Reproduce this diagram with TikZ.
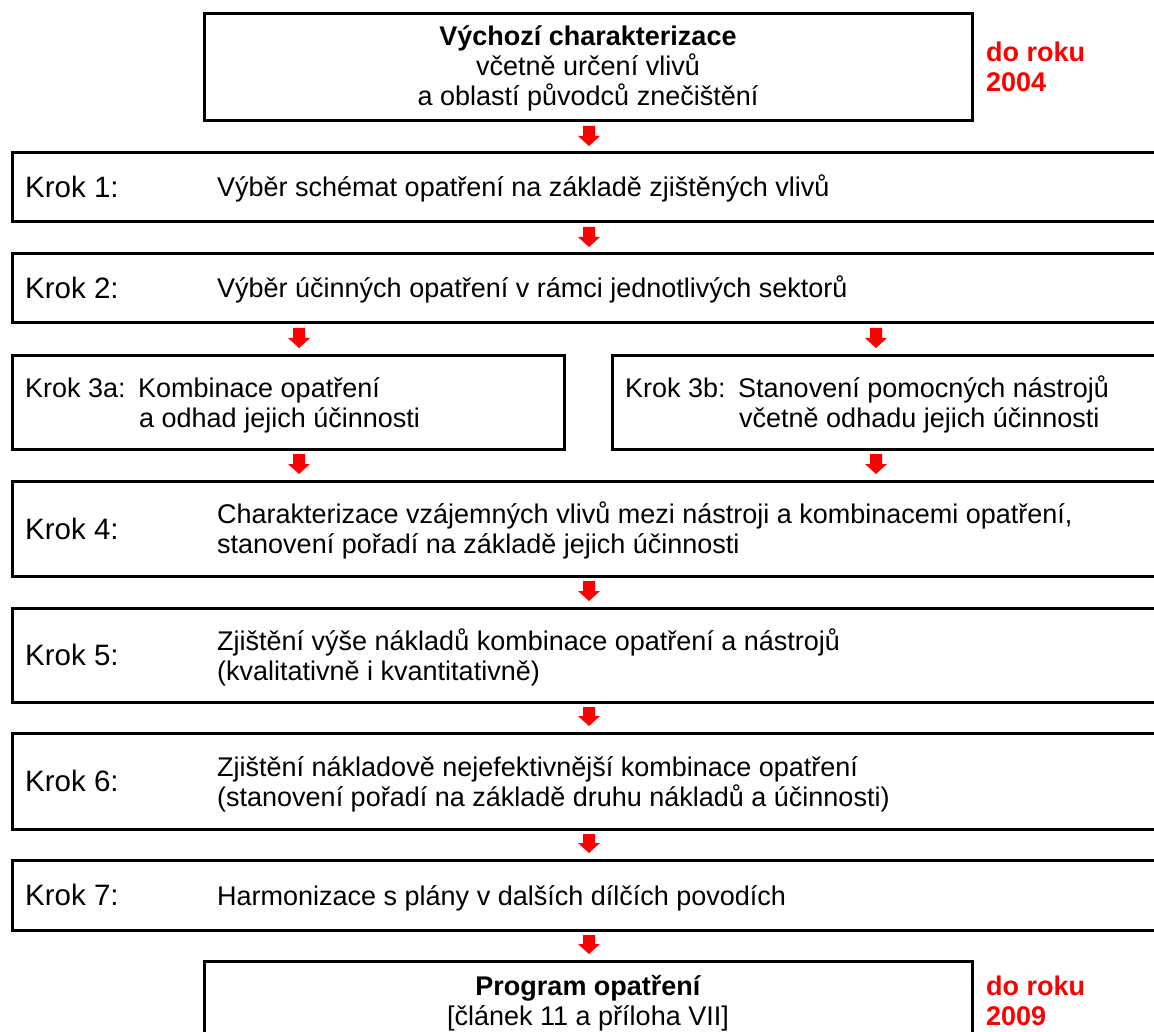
\documentclass[tikz,border=0pt]{standalone}
\usepackage{fontspec}
\setmainfont{Liberation Sans}
\usetikzlibrary{calc}
\definecolor{arrred}{RGB}{255,0,0}
\newcommand{\flowarrow}[2]{%
  \path (#1) coordinate (fa-s) (#2) coordinate (fa-e);
  \fill[arrred] let \p1=(fa-s), \p2=(fa-e) in
    (\x1-6pt,\y1-5pt) -- (\x1+6pt,\y1-5pt) -- (\x1+6pt,\y2+17pt) -- (\x1+11pt,\y2+17pt)
    -- (\x1,\y2+7pt) -- (\x1-11pt,\y2+17pt) -- (\x1-6pt,\y2+17pt) -- cycle;}
\tikzset{
  box/.style={draw=black, line width=3pt, rectangle, inner sep=0pt, outer sep=0pt, anchor=north west},
  body/.style={anchor=base west, inner sep=0pt, font=\fontsize{27}{30}\selectfont},
  klabel/.style={anchor=base west, inner sep=0pt, font=\fontsize{29.5}{33}\selectfont},
  ctext/.style={anchor=base, inner sep=0pt, font=\fontsize{27}{30}\selectfont},
  cbold/.style={anchor=base, inner sep=0pt, font=\bfseries\fontsize{27}{30}\selectfont},
  datelbl/.style={anchor=base west, inner sep=0pt, text=arrred, font=\bfseries\fontsize{27}{30}\selectfont}
}
\begin{document}
\begin{tikzpicture}[x=1pt,y=-1pt]
\useasboundingbox (0,0) rectangle (1154,1032);
\clip (0,0) rectangle (1154,1032);
\fill[white] (0,0) rectangle (1154,1032);
\coordinate (ax) at (589,0);
\coordinate (al) at (299,0);
\coordinate (ar) at (876,0);
% boxes
\node[box, minimum width=768pt, minimum height=107pt] (top) at (204,14) {};
\node[box, minimum width=1158pt, minimum height=69pt] (k1) at (12,153) {};
\node[box, minimum width=1158pt, minimum height=69pt] (k2) at (12,254) {};
\node[box, minimum width=552pt, minimum height=94pt] (k3a) at (12,355) {};
\node[box, minimum width=558pt, minimum height=94pt] (k3b) at (612,355) {};
\node[box, minimum width=1158pt, minimum height=95pt] (k4) at (12,481) {};
\node[box, minimum width=1158pt, minimum height=94pt] (k5) at (12,608) {};
\node[box, minimum width=1158pt, minimum height=96pt] (k6) at (12,733) {};
\node[box, minimum width=1158pt, minimum height=70pt] (k7) at (12,860) {};
\node[box, minimum width=768pt, minimum height=107pt] (prog) at (204,961) {};
% top text
\node[cbold] (t1) at (588,46) {Výchozí charakterizace};
\node[ctext] (t2) at (588,76) {včetně určení vlivů};
\node[ctext] (t3) at (588,106) {a oblastí původců znečištění};
\node[datelbl] (d1a) at (986,62) {do roku};
\node[datelbl] (d1b) at (986,92) {2004};
% step texts
\node[klabel] (l1) at (25,198) {Krok 1:};
\node[body] (b1) at (217,197) {Výběr schémat opatření na základě zjištěných vlivů};
\node[klabel] (l2) at (25,299) {Krok 2:};
\node[body] (b2) at (217,298) {Výběr účinných opatření v rámci jednotlivých sektorů};
\node[body] (l3a) at (25,397) {Krok 3a:};
\node[body] (b3a1) at (138,397) {Kombinace opatření};
\node[body] (b3a2) at (139,427) {a odhad jejich účinnosti};
\node[body] (l3b) at (625,397) {Krok 3b:};
\node[body] (b3b1) at (738,397) {Stanovení pomocných nástrojů};
\node[body] (b3b2) at (739,427) {včetně odhadu jejich účinnosti};
\node[klabel] (l4) at (25,539) {Krok 4:};
\node[body] (b4a) at (217,523) {Charakterizace vzájemných vlivů mezi nástroji a kombinacemi opatření,};
\node[body] (b4b) at (217,553) {stanovení pořadí na základě jejich účinnosti};
\node[klabel] (l5) at (25,665.5) {Krok 5:};
\node[body] (b5a) at (217,650) {Zjištění výše nákladů kombinace opatření a nástrojů};
\node[body] (b5b) at (217,680) {(kvalitativně i kvantitativně)};
\node[klabel] (l6) at (25,791.5) {Krok 6:};
\node[body] (b6a) at (217,776) {Zjištění nákladově nejefektivnější kombinace opatření};
\node[body] (b6b) at (217,806) {(stanovení pořadí na základě druhu nákladů a účinnosti)};
\node[klabel] (l7) at (25,905.5) {Krok 7:};
\node[body] (b7) at (217,905) {Harmonizace s plány v dalších dílčích povodích};
% bottom text
\node[cbold] (p1) at (588,995) {Program opatření};
\node[ctext] (p2) at (588,1025) {[článek 11 a příloha VII]};
\node[datelbl] (d2a) at (986,995) {do roku};
\node[datelbl] (d2b) at (986,1025) {2009};
% arrows
\flowarrow{top.south -| ax}{k1.north -| ax}
\flowarrow{k1.south -| ax}{k2.north -| ax}
\flowarrow{k2.south -| al}{k3a.north -| al}
\flowarrow{k2.south -| ar}{k3b.north -| ar}
\flowarrow{k3a.south -| al}{k4.north -| al}
\flowarrow{k3b.south -| ar}{k4.north -| ar}
\flowarrow{k4.south -| ax}{k5.north -| ax}
\flowarrow{k5.south -| ax}{k6.north -| ax}
\flowarrow{k6.south -| ax}{k7.north -| ax}
\flowarrow{k7.south -| ax}{prog.north -| ax}
\end{tikzpicture}
\end{document}
